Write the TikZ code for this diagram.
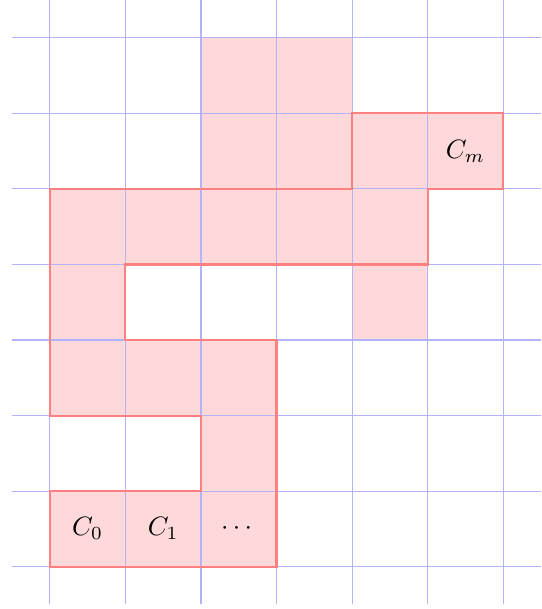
\documentclass[tikz,border=0pt]{standalone}
\usepackage{amsmath,amssymb}
\usepackage{tikz}
\usetikzlibrary{positioning, calc}

\begin{document}
\begin{tikzpicture}[cellfill/.style={fill=red!15, draw=none}, gridline/.style={blue!30, thin}, trail/.style={red!50, thick, line join=miter}]
    \useasboundingbox (-0.66,-0.56) rectangle (6.5,7.5);
    % filled cells
    \foreach \x/\y in {0/0, 1/0, 2/0, 2/1, 0/2, 1/2, 2/2, 0/3, 4/3, 0/4, 1/4, 2/4, 3/4, 4/4, 2/5, 3/5, 4/5, 5/5, 2/6, 3/6} {
        \fill[cellfill] (\x,\y) rectangle ++(1,1);
    }
    % grid
    \foreach \x in {0,...,6} {
        \draw[gridline] (\x,-0.5) -- (\x,7.5);
    }
    \foreach \y in {0,...,7} {
        \draw[gridline] (-0.5,\y) -- (6.5,\y);
    }
    % outline of the path
    \draw[trail] (0,0) -- (3,0) -- (3,3) -- (1,3) -- (1,4) -- (5,4) -- (5,5) -- (6,5) -- (6,6) -- (4,6) -- (4,5) -- (0,5) -- (0,2) -- (2,2) -- (2,1) -- (0,1) -- cycle;
    \node (c0) at (0.5,0.5) {$C_0$};
    \node (c1) at (1.5,0.5) {$C_1$};
    \node (cdots) at (2.5,0.5) {$\cdots$};
    \node (cm) at (5.5,5.5) {$C_m$};
\end{tikzpicture}
\end{document}
